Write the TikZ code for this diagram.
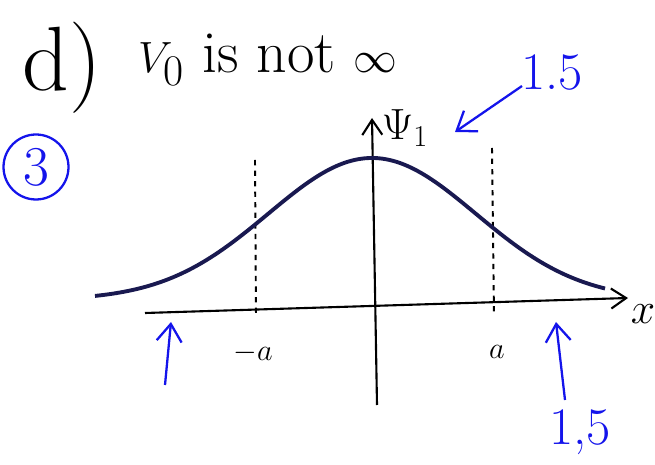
\documentclass[tikz,border=0pt]{standalone}
\usepackage{amsmath}
\usepackage{xcolor}
\usepackage{tikz}
\usetikzlibrary{arrows.meta,positioning,calc}
\definecolor{penblue}{RGB}{20,20,235}
\definecolor{inkcurve}{RGB}{25,25,80}
\tikzset{
  axisline/.style={-{Straight Barb[length=3mm,width=4mm]},black,line width=1.2pt},
  guideline/.style={dashed,black,line width=1.1pt},
  wavecurve/.style={inkcurve,line width=2.2pt},
  bluearrow/.style={-{Straight Barb[length=3.5mm,width=5mm]},penblue,line width=1.3pt},
  bluelab/.style={text=penblue,font=\fontsize{30}{30}\selectfont,inner sep=1pt},
  ticklab/.style={font=\fontsize{17}{17}\selectfont,inner sep=1pt}
}
\begin{document}
\begin{tikzpicture}[x=0.02cm,y=-0.02cm,font=\small]
  \useasboundingbox (0,0) rectangle (655,465);
  % titles
  \node[font=\fontsize{52}{52}\selectfont] (part) at (62,68) {d)};
  \node[font=\fontsize{34}{38}\selectfont,anchor=west] (title) at (132,60) {$V_0$ is not $\infty$};
  \node[circle,draw=penblue,line width=1.3pt,text=penblue,font=\fontsize{32}{32}\selectfont,minimum size=1.3cm,inner sep=0pt] (num) at (36,167) {3};
  % axes
  \coordinate (xl) at (145,313);
  \coordinate (xr) at (628,298);
  \coordinate (yb) at (377,405);
  \coordinate (yt) at (372,118);
  \draw[axisline] (xl) -- (xr);
  \draw[axisline] (yb) -- (yt);
  \node[font=\fontsize{24}{24}\selectfont] (xlab) at (643,314) {$x$};
  \node[font=\fontsize{24}{24}\selectfont] (ylab) at (405,128) {$\Psi_1$};
  % well edges
  \coordinate (ltop) at (255,160);
  \coordinate (lbot) at (256,318);
  \coordinate (rtop) at (492,148);
  \coordinate (rbot) at (494,316);
  \draw[guideline] (ltop) -- (lbot);
  \draw[guideline] (rtop) -- (rbot);
  \node[ticklab] (ma) at (253,353) {$-a$};
  \node[ticklab] (pa) at (497,352) {$a$};
  % wave function
  \draw[wavecurve] plot[domain=95:605,samples=120,smooth] (\x,{300-142*exp(-((\x-372)/147)^2)});
  % notes
  \node[bluelab] (top15) at (552,73) {1.5};
  \coordinate (tailA) at (522,86);
  \coordinate (tipA) at (455,132);
  \draw[bluearrow] (tailA) -- (tipA);
  \coordinate (tailB) at (165,385);
  \coordinate (tipB) at (171,322);
  \draw[bluearrow] (tailB) -- (tipB);
  \node[bluelab] (bot15) at (580,432) {1,5};
  \coordinate (tailC) at (565,400);
  \coordinate (tipC) at (556,322);
  \draw[bluearrow] (tailC) -- (tipC);
\end{tikzpicture}
\end{document}
